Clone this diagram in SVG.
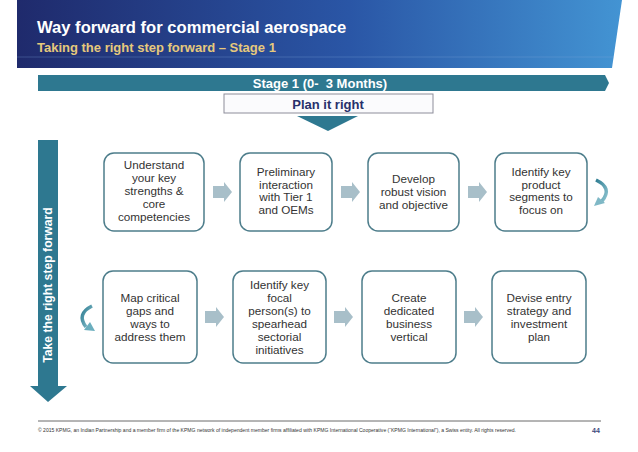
<svg xmlns="http://www.w3.org/2000/svg" xmlns:xlink="http://www.w3.org/1999/xlink" width="638" height="452" viewBox="0 0 638 452">
<defs>
<linearGradient id="hdr" x1="0" y1="0" x2="1" y2="0">
<stop offset="0" stop-color="#1f2a6c"/>
<stop offset="0.55" stop-color="#2a56a6"/>
<stop offset="1" stop-color="#4394d3"/>
</linearGradient>
<linearGradient id="curl" x1="0" y1="0" x2="1" y2="1">
<stop offset="0" stop-color="#2f7d92"/>
<stop offset="1" stop-color="#8cc3cf"/>
</linearGradient>
<path id="blk" d="M0,-6 H11 V-10 L19,0 L11,10 V6 H0 Z"/>
</defs>
<style>
.box{fill:#fff;stroke:#4d7d8b;stroke-width:1.5}
.bt{font-family:"Liberation Sans",Arial,sans-serif;font-size:11.7px;fill:#333;text-anchor:middle}
.blk{fill:#a8bfc9}
.teal{fill:#2e7890}
</style>
<rect width="638" height="452" fill="#fff"/>
<g id="header">
<polygon points="17,0 622,0 612,68 17,68" fill="url(#hdr)"/>
<line x1="17" y1="57" x2="613" y2="57" stroke="#7fa8dc" stroke-width="0.6" opacity="0.5"/>
<text x="37" y="33" font-family="Liberation Sans,Arial,sans-serif" font-size="16.6" font-weight="bold" fill="#fff">Way forward for commercial aerospace</text>
<text x="37" y="52" font-family="Liberation Sans,Arial,sans-serif" font-size="13" font-weight="bold" fill="#e6c97c">Taking the right step forward – Stage 1</text>
</g>
<g id="stage">
<polygon class="teal" points="38,75 605,75 609,83 605,91 38,91"/>
<text x="320" y="88" font-family="Liberation Sans,Arial,sans-serif" font-size="13" font-weight="bold" fill="#fff" text-anchor="middle" xml:space="preserve">Stage 1 (0-  3 Months)</text>
</g>
<g id="plan">
<rect x="224" y="94" width="209" height="19" fill="#fbfbfd" stroke="#8d8d9a" stroke-width="1"/>
<text x="328" y="109" font-family="Liberation Sans,Arial,sans-serif" font-size="13" font-weight="bold" fill="#27306b" text-anchor="middle">Plan it right</text>
<polygon class="teal" points="297,116 358,116 328,131"/>
</g>
<g id="side-arrow">
<polygon class="teal" points="38,140 58,140 58,386 67,386 48,402 30,386 38,386"/>
<text transform="translate(52,285) rotate(-90)" font-family="Liberation Sans,Arial,sans-serif" font-size="12.2" font-weight="bold" fill="#fff" text-anchor="middle">Take the right step forward</text>
</g>
<g id="connectors">
<use xlink:href="#blk" class="blk" x="213" y="192"/>
<use xlink:href="#blk" class="blk" x="341" y="192"/>
<use xlink:href="#blk" class="blk" x="468" y="192"/>
<use xlink:href="#blk" class="blk" x="205" y="317"/>
<use xlink:href="#blk" class="blk" x="334" y="317"/>
<use xlink:href="#blk" class="blk" x="464" y="317"/>
<path d="M596,180 Q613,188 602,201" fill="none" stroke="url(#curl)" stroke-width="3.5"/>
<polygon points="594,206 598,197 605,203" fill="#7fb8c6"/>
<path d="M92,306 Q76,314 86,327" fill="none" stroke="url(#curl)" stroke-width="3.5"/>
<polygon points="95,331 84,330 90,322" fill="#6aaebe"/>
</g>
<g id="n1">
<rect class="box" x="104" y="153" width="100" height="78" rx="10"/>
<text class="bt"><tspan x="154" y="169">Understand</tspan><tspan x="154" y="182">your key</tspan><tspan x="154" y="195">strengths &amp;</tspan><tspan x="154" y="208">core</tspan><tspan x="154" y="221">competencies</tspan></text>
</g>
<g id="n2">
<rect class="box" x="240" y="153" width="92" height="78" rx="10"/>
<text class="bt"><tspan x="286" y="176">Preliminary</tspan><tspan x="286" y="189">interaction</tspan><tspan x="286" y="201">with Tier 1</tspan><tspan x="286" y="214">and OEMs</tspan></text>
</g>
<g id="n3">
<rect class="box" x="368" y="153" width="91" height="78" rx="10"/>
<text class="bt"><tspan x="413.5" y="183">Develop</tspan><tspan x="413.5" y="196">robust vision</tspan><tspan x="413.5" y="209">and objective</tspan></text>
</g>
<g id="n4">
<rect class="box" x="495" y="153" width="92" height="78" rx="10"/>
<text class="bt"><tspan x="541" y="176">Identify key</tspan><tspan x="541" y="189">product</tspan><tspan x="541" y="201">segments to</tspan><tspan x="541" y="214">focus on</tspan></text>
</g>
<g id="n5">
<rect class="box" x="103" y="271" width="94" height="92" rx="10"/>
<text class="bt"><tspan x="150" y="302">Map critical</tspan><tspan x="150" y="315">gaps and</tspan><tspan x="150" y="328">ways to</tspan><tspan x="150" y="341">address them</tspan></text>
</g>
<g id="n6">
<rect class="box" x="233" y="271" width="93" height="92" rx="10"/>
<text class="bt"><tspan x="279.5" y="289">Identify key</tspan><tspan x="279.5" y="302">focal</tspan><tspan x="279.5" y="315">person(s) to</tspan><tspan x="279.5" y="328">spearhead</tspan><tspan x="279.5" y="341">sectorial</tspan><tspan x="279.5" y="354">initiatives</tspan></text>
</g>
<g id="n7">
<rect class="box" x="362" y="271" width="94" height="92" rx="10"/>
<text class="bt"><tspan x="409" y="302">Create</tspan><tspan x="409" y="315">dedicated</tspan><tspan x="409" y="328">business</tspan><tspan x="409" y="341">vertical</tspan></text>
</g>
<g id="n8">
<rect class="box" x="492" y="271" width="94" height="92" rx="10"/>
<text class="bt"><tspan x="539" y="302">Devise entry</tspan><tspan x="539" y="315">strategy and</tspan><tspan x="539" y="328">investment</tspan><tspan x="539" y="341">plan</tspan></text>
</g>
<g id="footer">
<line x1="38" y1="421" x2="601" y2="421" stroke="#444" stroke-width="0.8"/>
<text x="38" y="432" font-family="Liberation Sans,Arial,sans-serif" font-size="4.8" fill="#333" textLength="478" lengthAdjust="spacingAndGlyphs">© 2015 KPMG, an Indian Partnership and a member firm of the KPMG network of independent member firms affiliated with KPMG International Cooperative (“KPMG International”), a Swiss entity. All rights reserved.</text>
<text x="592" y="433" font-family="Liberation Sans,Arial,sans-serif" font-size="7" font-weight="bold" fill="#3b4a7c">44</text>
</g>
</svg>
